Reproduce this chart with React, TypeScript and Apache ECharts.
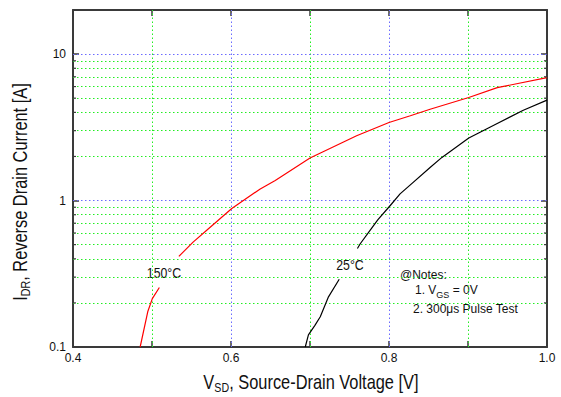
import React, { useEffect, useRef } from "react";
import * as echarts from "echarts";

const FONT = "'Liberation Sans', Arial, sans-serif";

// Curve data: [V_SD (V), I_DR (A)]
const red150Lower: number[][] = [
  [0.485, 0.1], [0.4946, 0.174], [0.5004, 0.214], [0.5093, 0.255],
];
const red150Upper: number[][] = [
  [0.534, 0.416], [0.552, 0.52], [0.570, 0.632], [0.601, 0.883], [0.637, 1.2],
  [0.656, 1.37], [0.700, 1.95], [0.759, 2.77], [0.800, 3.41], [0.827, 3.79],
  [0.852, 4.2], [0.901, 5.05], [0.937, 5.9], [1.0, 6.9],
];
const black25Lower: number[][] = [
  [0.694, 0.1], [0.698, 0.121], [0.706, 0.14], [0.713, 0.161], [0.7234, 0.22], [0.737, 0.29],
];
const black25Upper: number[][] = [
  [0.760, 0.47], [0.7636, 0.507], [0.776, 0.625], [0.786, 0.74], [0.8016, 0.925],
  [0.814, 1.11], [0.827, 1.28], [0.852, 1.68], [0.867, 1.97], [0.901, 2.67],
  [0.937, 3.36], [0.970, 4.14], [1.0, 4.85],
];

// Axis / grid definitions
const xTickLabels = ["0.4", "0.6", "0.8", "1.0"];
const xGreenLines = [0.5, 0.7, 0.9];
const xBlueLines = [0.6, 0.8];
const yBlueLines = [1, 10];
const yGreenLines = [0.2, 0.3, 0.4, 0.5, 0.6, 0.7, 0.8, 0.9, 2, 3, 4, 5, 6, 7, 8, 9];
const yMinorTicks = [0.2, 0.3, 0.4, 0.5, 0.6, 0.7, 0.8, 0.9, 2, 3, 4, 5, 6, 7, 8, 9];

const GREEN = "#22ee22";
const BLUE = "#6b6bff";
const FRAME = "#3a3a3a";
const NARROW = 0.82;

export default function App() {
  const ref = useRef<HTMLDivElement>(null);
  useEffect(() => {
    if (!ref.current) return;
    const chart = echarts.init(ref.current, null, { renderer: "svg" });

    const dotted = (color: string) => ({ color, width: 1, type: [1.5, 2.5] as any });
    const markData: any[] = [
      ...xGreenLines.map((v) => ({ xAxis: v, lineStyle: dotted(GREEN) })),
      ...xBlueLines.map((v) => ({ xAxis: v, lineStyle: dotted(BLUE) })),
      ...yGreenLines.map((v) => ({ yAxis: v, lineStyle: dotted(GREEN) })),
      ...yBlueLines.map((v) => ({ yAxis: v, lineStyle: dotted(BLUE) })),
    ];

    const isDecade = (v: number) =>
      Math.abs(Math.log10(v) - Math.round(Math.log10(v))) < 1e-6 && v < 15;

    const richTitle = {
      n: { fontSize: 20, fontFamily: FONT, fill: "#111", verticalAlign: "top" },
      s: { fontSize: 13, fontFamily: FONT, fill: "#111", verticalAlign: "top", padding: [10, 0, 0, 0] },
    };

    const curve = (data: number[][], color: string) => ({
      type: "line",
      data,
      showSymbol: false,
      symbol: "none",
      z: 5,
      lineStyle: { color, width: 1.2 },
      silent: true,
    });

    const frameLine = { show: true, onZero: false, lineStyle: { color: FRAME, width: 2 } };
    const frameTick = { show: true, inside: true, length: 6, lineStyle: { color: FRAME, width: 1.5 } };

    chart.setOption({
      animation: false,
      backgroundColor: "#fff",
      grid: { left: 73, right: 14, top: 10, bottom: 50, containLabel: false },
      xAxis: [
        {
          type: "value",
          position: "bottom",
          min: 0.4,
          max: 1.0,
          interval: 0.1,
          axisLine: frameLine,
          axisTick: frameTick,
          splitLine: { show: false },
          axisLabel: {
            fontFamily: FONT,
            fontSize: 12,
            color: "#111",
            margin: 5,
            formatter: (v: number) => {
              const s = v.toFixed(1);
              return xTickLabels.includes(s) ? s : "";
            },
          },
        },
        {
          type: "value",
          position: "top",
          min: 0.4,
          max: 1.0,
          interval: 0.1,
          axisLine: frameLine,
          axisTick: frameTick,
          splitLine: { show: false },
          axisLabel: { show: false },
        },
      ],
      yAxis: [
        {
          type: "log",
          logBase: 10,
          position: "left",
          min: 0.1,
          max: 20,
          axisLine: frameLine,
          axisTick: frameTick,
          minorTick: { show: false },
          splitLine: { show: false },
          axisLabel: {
            fontFamily: FONT,
            fontSize: 12,
            color: "#111",
            margin: 7,
            formatter: (v: number) => (isDecade(v) ? String(+v.toPrecision(3)) : ""),
          },
        },
        {
          type: "log",
          logBase: 10,
          position: "right",
          min: 0.1,
          max: 20,
          axisLine: frameLine,
          axisTick: frameTick,
          splitLine: { show: false },
          axisLabel: { show: false },
        },
      ],
      series: [
        {
          type: "line",
          data: [],
          z: 1,
          silent: true,
          markLine: {
            silent: true,
            symbol: ["none", "none"],
            label: { show: false },
            animation: false,
            data: markData,
          },
        },
        {
          type: "custom",
          z: 6,
          silent: true,
          data: yMinorTicks.map((v) => [0.4, v]),
          renderItem: (_params: any, api: any) => {
            const v = api.value(1);
            const l = api.coord([0.4, v]);
            const r = api.coord([1.0, v]);
            const st = { stroke: FRAME, lineWidth: 1.2 };
            return {
              type: "group",
              children: [
                { type: "line", shape: { x1: l[0], y1: l[1], x2: l[0] + 3, y2: l[1] }, style: st },
                { type: "line", shape: { x1: r[0], y1: r[1], x2: r[0] - 3, y2: r[1] }, style: st },
              ],
            };
          },
        },
        curve(red150Lower, "#ff0000"),
        curve(red150Upper, "#ff0000"),
        curve(black25Lower, "#000000"),
        curve(black25Upper, "#000000"),
      ],
      graphic: [
        {
          type: "text",
          x: 311,
          y: 383,
          scaleX: NARROW,
          style: {
            text: "{n|V}{s|SD}{n|, Source-Drain Voltage [V]}",
            rich: richTitle,
            align: "center",
            verticalAlign: "middle",
          },
        },
        {
          type: "text",
          x: 21,
          y: 192,
          rotation: Math.PI / 2,
          scaleX: NARROW,
          style: {
            text: "{n|I}{s|DR}{n|, Reverse Drain Current [A]}",
            rich: richTitle,
            align: "center",
            verticalAlign: "middle",
          },
        },
        {
          type: "text",
          x: 164,
          y: 273,
          scaleX: NARROW,
          style: { text: "150°C", fontFamily: FONT, fontSize: 15, fill: "#111", align: "center", verticalAlign: "middle" },
        },
        {
          type: "text",
          x: 350,
          y: 265,
          scaleX: NARROW,
          style: { text: "25°C", fontFamily: FONT, fontSize: 15, fill: "#111", align: "center", verticalAlign: "middle" },
        },
        {
          type: "text",
          x: 400,
          y: 275,
          style: { text: "@Notes:", fontFamily: FONT, fontSize: 12, fill: "#111", verticalAlign: "middle" },
        },
        {
          type: "text",
          x: 415,
          y: 284,
          style: {
            text: "{n|1. V}{s|GS}{n| = 0V}",
            fill: "#111",
            rich: {
              n: { fontSize: 12, fontFamily: FONT, fill: "#111", verticalAlign: "top" },
              s: { fontSize: 9, fontFamily: FONT, fill: "#111", verticalAlign: "top", padding: [6, 0, 0, 0] },
            },
          },
        },
        {
          type: "text",
          x: 413,
          y: 309,
          style: { text: "2. 300μs Pulse Test", fontFamily: FONT, fontSize: 12, fill: "#111", verticalAlign: "middle" },
        },
      ],
    });
    return () => chart.dispose();
  }, []);
  return (
    <div
      ref={ref}
      style={{ position: "absolute", left: 0, top: 0, width: 561, height: 397 }}
    />
  );
}
